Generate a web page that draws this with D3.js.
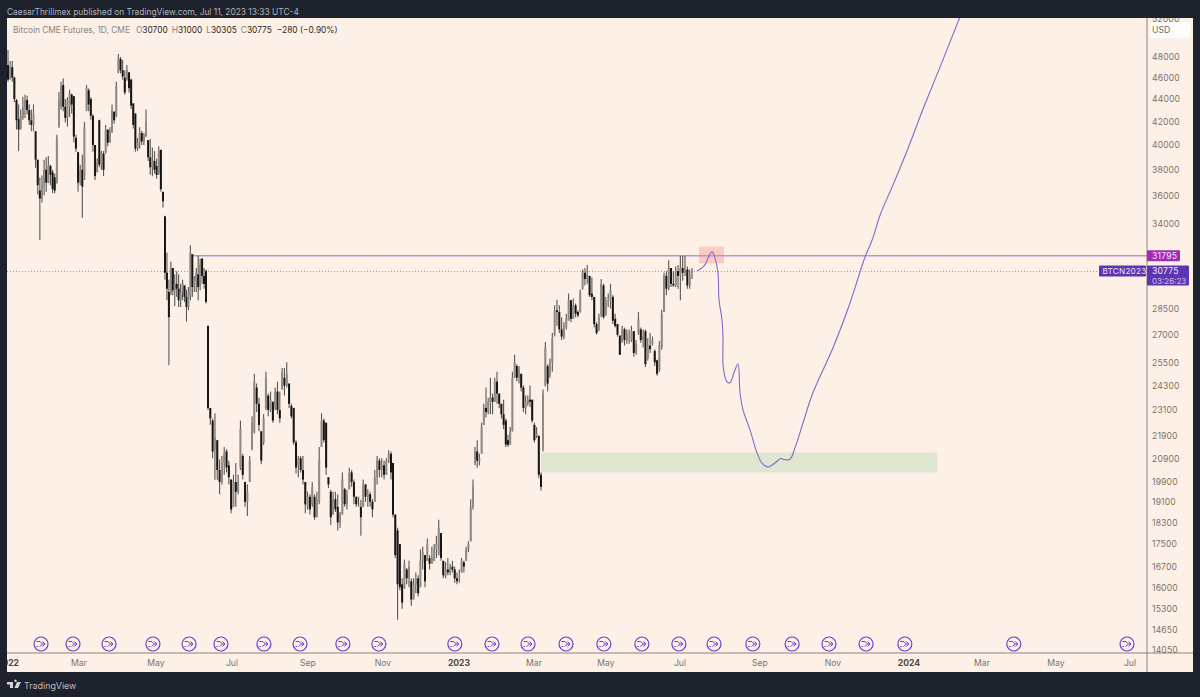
<!DOCTYPE html>
<html><head><meta charset="utf-8">
<script src="https://cdnjs.cloudflare.com/ajax/libs/d3/7.8.5/d3.min.js"></script>
<style>html,body{margin:0;padding:0;background:#1e222d;overflow:hidden}svg{display:block}text{font-family:Inter,"Noto Sans",sans-serif}</style>
</head><body><svg id="c" width="1200" height="697"></svg>
<script>
const highs=[48700,47600,47600,46100,44000,43500,43050,44200,44400,44300,
43500,43050,43500,41150,38800,37400,37550,38800,39000,39100,
38400,38000,37700,40850,44650,45600,45900,44000,44150,44850,
44500,44250,40850,39450,38400,39200,41950,45300,45000,44150,
42600,40000,38900,42150,39500,39500,41700,41300,41500,43500,
42900,45600,48300,48000,47700,46700,47200,46500,45900,43600,
42700,40600,41500,41200,41000,43050,40400,40500,39800,39500,
38900,39900,39600,36300,
34550,32000,30250,31400,31000,30600,30800,30600,30000,30250,
29900,29650,29800,32500,31900,30500,31000,31800,31600,31650,
31000,30900,
27500,23200,22700,22950,21700,20850,21000,21400,21300,20800,
20000,20200,20700,20200,22600,21100,19900,19800,21000,22800,
24900,24400,23700,22100,22900,25000,23900,24000,23500,24200,
24500,24000,25200,25200,25500,24400,23400,23200,21700,21000,
21000,21000,19900,19500,19400,19900,19400,19500,21400,22950,
22700,22500,20100,19580,19500,19500,19400,18700,20300,19650,
19580,20500,20400,20000,19300,19300,19180,20000,19800,19600,
19500,19200,20400,21000,20900,20900,20800,20900,21250,21200,
20700,18600,18100,17500,16300,16950,16650,16900,16300,16300,
16500,16400,17300,17400,17100,17700,17100,17400,17500,17800,
18400,17900,16900,16850,17000,16800,16900,16700,16500,16600,
17000,16900,17400,17600,19200,20000,
21400,21700,21100,22500,23400,24200,23700,24700,23900,24700,
25000,23900,23400,23600,22700,21950,22300,25000,25900,25400,
25300,24900,24300,23800,23800,24300,23600,22500,22300,21900,
20300,
24100,26600,25400,25700,27100,28700,29030,28700,28000,27700,
28200,29400,29000,29100,28800,28400,29650,30900,31000,31200,
30500,30400,29200,27700,28200,30300,30000,29200,29400,30000,
29300,28200,27600,26950,27500,27400,27300,27300,27500,27200,
26700,28300,27400,27300,27300,26800,27100,26900,26200,25630,
26650,28430,30700,30800,31500,31000,30800,31100,31200,31800,
31800,31800,31100,30900,31000];
const lows=[45600,45800,45600,43700,41300,39500,41300,42150,42300,42600,
41700,41150,41150,38150,36100,32850,35500,36050,36300,36950,
36800,36200,36200,36950,41450,43050,42900,41900,41550,42400,
42700,40200,39450,36300,36800,34400,37200,42900,42900,42150,
39450,37200,37800,38200,38000,37500,39300,39900,40200,41000,
41800,42400,46400,46400,45800,44400,45700,44600,43100,41400,
39450,39500,39700,40000,40000,40700,38700,37600,37500,37700,
37300,37600,36300,35150,
30250,29000,25350,29300,29300,28650,29200,28600,28600,29000,
28900,27750,28400,29000,29200,29500,29500,29000,29600,30000,
29700,28800,
23100,22400,20900,19990,19990,19400,19800,20200,20300,19800,
18650,18900,18900,19400,20400,20000,18900,18550,19900,21250,
22000,23000,22100,20650,21500,23100,22800,23000,22500,23100,
22900,22500,24100,23800,24200,23200,22700,21500,20250,20100,
20300,19800,18650,18800,18600,18900,18400,18500,19000,21400,
21600,20200,19650,18200,18600,18700,18000,18100,18600,18900,
18800,19600,19700,19000,18900,18900,17800,18900,19100,18900,
18900,18500,19100,19800,20100,20100,20000,20200,20700,20000,
18500,17000,14960,15900,15300,15950,16100,16000,15400,15600,
15800,15700,16000,16600,16000,16900,16600,16800,16900,17000,
17100,16900,16300,16300,16400,16400,16500,16150,16100,16150,
16500,16500,16900,17200,17600,18800,
20600,20500,20600,21100,22400,22750,22900,22900,22900,23500,
23400,23200,22700,22200,21400,21400,21500,22100,24700,24500,
24400,24000,23000,22900,23300,23250,22500,21600,21800,20050,
19550,
21200,24250,24000,24700,25000,26900,27500,27100,26700,26750,
27300,27800,27700,27900,28000,28000,28250,29650,29900,30000,
29200,29000,27400,27000,27200,28000,27900,28100,28600,28500,
27600,27400,26900,25900,26550,26400,26500,26500,26600,25800,
25900,27000,26550,26300,25250,25600,26000,26400,25300,24800,
25000,26170,28300,29300,29600,29800,29800,29800,29700,29000,
30200,30500,29700,29700,30305];
const opens=[47200,45900,47000,46000,43900,42200,41400,42300,43200,43900,
43000,42100,41700,41150,38800,36400,35800,36800,38000,37000,
38300,37800,37400,36950,41500,43300,45300,43300,42300,43300,
44400,44250,40600,39400,37100,38000,37300,42950,44800,44000,
42500,40000,37800,42100,38400,39300,39400,41300,40200,41100,
42850,42500,46500,47800,46700,46000,45800,46500,45800,43600,
42700,39700,40200,41000,40300,40700,40400,39000,38200,38700,
38300,37700,39600,36300,
34500,30700,29500,29400,31000,29600,30000,29700,29000,29500,
29900,29200,28600,29200,31900,29900,30200,30600,29900,31600,
30500,30800,
27500,23200,22600,21300,21700,20400,19900,20700,21200,20600,
20000,18900,19900,19500,20500,21000,19900,19100,19900,21300,
22100,24200,23400,22100,21600,23200,23800,23100,23500,23200,
24000,23100,24100,24700,24300,24400,23300,23200,21600,20600,
20900,20400,19900,18900,19300,19000,19300,18500,19100,21400,
22600,22500,20100,19500,18600,19200,18900,18300,18600,19600,
19000,19600,20300,19900,19300,19000,18900,18900,19800,19300,
19400,19100,19100,20100,20800,20400,20600,20200,20800,21100,
20700,18600,18000,17500,16100,15950,16600,16300,16200,15600,
16100,16300,16000,16900,17100,16900,17000,16800,16900,17300,
17100,17900,16900,16400,16600,16500,16700,16600,16300,16300,
16500,16850,16900,17300,17600,18900,
20700,21200,20800,21100,22400,23200,23000,23500,23700,23500,
24500,23900,23400,22900,22600,21700,21500,22100,24700,25300,
24700,24900,24200,23200,23400,23600,23600,22400,21900,21900,
20200,
21300,24300,25300,24800,25500,27000,28400,28300,27300,26900,
27400,27800,29000,27900,28700,28300,28300,29700,30700,30300,
30500,29400,29200,27600,27300,28100,29900,28100,28900,29000,
29200,27900,27600,26950,26600,27300,26700,26700,26700,27200,
26000,27100,27300,26700,27200,25700,26400,26500,26100,25600,
25100,26300,28300,30500,29700,31000,30000,29900,30800,30500,
31000,30700,30900,29900,30700];
const closes=[45800,47000,46000,44000,42100,41300,42400,43300,43950,43000,
42100,41700,42700,38800,36800,35800,36800,38000,37000,38300,
37600,36500,36400,40500,44000,45200,43300,42300,43900,44500,
43500,40700,39700,37000,38000,36700,41500,45000,43500,42500,
40000,37500,38600,38400,39300,38000,41300,40200,41200,43000,
42100,45200,48000,46700,46100,44600,46700,45000,43400,41700,
39700,40200,41000,40300,40800,42000,39000,38200,38700,38000,
37600,39500,36500,35600,
30700,29700,28000,31000,29600,30000,29700,29000,29500,30000,
29200,28600,29500,32000,29800,30300,30700,29800,31200,30500,
30000,28900,
23200,22700,21200,21800,20400,19900,20700,21100,20500,20100,
18800,19900,19500,19900,22200,20200,19100,19500,20800,22500,
24500,23400,22400,20800,22700,24700,23100,23600,22600,24000,
23100,22700,25000,24300,24900,23400,22800,21600,20500,20900,
20400,20000,19000,19300,18800,19700,18500,19200,20800,22600,
21700,20500,19800,18500,19200,18800,18300,18600,20000,19000,
19400,20300,19900,19300,19000,19000,18500,19800,19300,19400,
19100,18800,20100,20800,20400,20600,20200,20800,21100,20300,
18600,17100,16100,16000,15500,16800,16300,16700,15600,16100,
16300,15800,16900,17200,16200,17500,16800,17000,17300,17500,
18100,17000,16400,16600,16500,16700,16600,16300,16200,16300,
16900,16700,17300,17500,18900,19700,
21200,20800,20900,22300,23200,23000,23500,23700,23500,24500,
23900,23400,22900,22400,21500,21500,22100,24700,25500,24700,
25100,24200,23200,23500,23600,23500,22600,21700,22000,20200,
19700,
23900,26300,24400,25500,26800,28400,28300,27300,26900,27400,
27900,29000,27900,28700,28200,28100,29500,30700,30300,30600,
29300,29200,27600,27100,28000,30000,28000,28900,29000,29600,
27800,27500,27000,25900,27300,26700,27100,26700,27200,26000,
26500,27900,26700,26900,25400,26400,26200,26700,25500,24900,
26400,28200,30500,29700,31000,30000,29900,30800,30500,31000,
30700,30900,29900,30600,30775];

// bar index calibration around the weekend/holiday gaps
const barAnchors=[0,73,74,95,96,175,176,211,212,242,243,307];
const barPixels=[8,163,165,206,208,391,393,473,475,541,543,692];

const priceTicks=[52000,48000,46000,44000,42000,40000,38000,36000,34000,28500,27000,25500,24300,23100,21900,20900,19900,19100,18300,17500,16700,16000,15300,14650,14050];
const monthValues=[0,2,4,6,8,10,12,14,16,18,20,22,24,26,28,30];
const monthLabels=["2022","Mar","May","Jul","Sep","Nov","2023","Mar","May","Jul","Sep","Nov","2024","Mar","May","Jul"];
const monthPixels=[8,79,156,232,308,383,459,534,606,680,760,833,909,982,1056,1130];
const rollovers=[0.93,1.83,2.78,3.92,4.87,5.71,6.84,7.79,8.93,9.89,11.89,12.88,13.84,14.89,15.94,16.97,17.97,18.85,19.82,20.88,21.89,22.87,23.89,26.86,29.92];

const projMonths=[18.43,18.625,18.7,18.8,18.875,18.95,18.975,19.05,19.075,19.08,19.175,19.25,19.35,19.45,19.5,19.575,19.75,19.925,20.05,20.22,20.41,20.575,20.63,20.82,20.96,21.18,21.45,22,22.45,22.84,23.03,23.24,23.58,23.95,24.38,24.85,25.4];
const projPrices=[30800,31200,31640,32070,31640,30700,29030,27850,26720,25270,24490,24440,24950,25420,23940,23110,22170,21140,20700,20530,20700,20900,20860,20860,21360,22500,23940,26280,28850,31700,32850,34600,36830,39530,43050,47000,52200];

const resistance=31795, lastClose=30775;
const supplyZone={m0:18.475,m1:19.1,p0:32400,p1:31300};
const demandZone={m0:14.19,m1:24.77,p0:21150,p1:20300};

const svg=d3.select("#c");
const L=7,R=1193,T=18,B=672,AX=1147,TA=653;
const y=d3.scaleLog().domain([14050,48000]).range([650,57]);
const xBar=d3.scaleLinear().domain(barAnchors).range(barPixels);
const xM=d3.scaleLinear().domain(monthValues).range(monthPixels);

svg.append("rect").attr("width",1200).attr("height",697).attr("fill","#1e222d");
svg.append("rect").attr("x",L).attr("y",T).attr("width",R-L).attr("height",B-T).attr("fill","#fdf0e6");
const defs=svg.append("defs");
defs.append("clipPath").attr("id","pane").append("rect").attr("x",L).attr("y",T).attr("width",AX-L).attr("height",TA-T);
defs.append("clipPath").attr("id","scale").append("rect").attr("x",AX).attr("y",T).attr("width",R-AX).attr("height",TA-T+1);
defs.append("clipPath").attr("id","time").append("rect").attr("x",L).attr("y",TA).attr("width",AX-L).attr("height",B-TA);
defs.append("filter").attr("id","soft").attr("x","-5%").attr("y","-5%").attr("width","110%").attr("height","110%")
  .append("feGaussianBlur").attr("stdDeviation",0.3);

const pane=svg.append("g").attr("clip-path","url(#pane)");
// zones
[[supplyZone,"#fbcbc1"],[demandZone,"#dfe6cf"]].forEach(([z,c])=>{
  pane.append("rect").attr("x",xM(z.m0)).attr("width",xM(z.m1)-xM(z.m0))
    .attr("y",y(z.p0)).attr("height",y(z.p1)-y(z.p0)).attr("fill",c);
});
// last price dotted
pane.append("line").attr("x1",L).attr("x2",AX).attr("y1",y(lastClose)).attr("y2",y(lastClose))
  .attr("stroke","#a987cf").attr("stroke-width",1).attr("stroke-dasharray","1 2");
// resistance
pane.append("line").attr("x1",xM(4.95)).attr("x2",AX).attr("y1",y(resistance)).attr("y2",y(resistance))
  .attr("stroke","#bd95cf").attr("stroke-width",1.6);

const idx=d3.range(highs.length);
const bars=pane.append("g").attr("filter","url(#soft)");
bars.append("g").selectAll("line").data(idx).join("line")
  .attr("x1",i=>xBar(i)).attr("x2",i=>xBar(i))
  .attr("y1",i=>y(highs[i])).attr("y2",i=>y(lows[i]))
  .attr("stroke","#5a5652").attr("stroke-width",1.1);
bars.append("g").selectAll("rect").data(idx).join("rect")
  .attr("x",i=>xBar(i)-1).attr("width",2)
  .attr("y",i=>y(Math.max(opens[i],closes[i])))
  .attr("height",i=>Math.max(0.8,Math.abs(y(opens[i])-y(closes[i]))))
  .attr("fill",i=>closes[i]<opens[i]?"#141414":"#8f8a85");

// projection
pane.append("path").attr("fill","none").attr("stroke","#8469c8").attr("stroke-width",1.1)
  .attr("d",d3.line().x((d,i)=>xM(projMonths[i])).y(d=>y(d)).curve(d3.curveCatmullRom.alpha(0.5))(projPrices));

// rollover icons
const ic=pane.append("g").selectAll("g").data(rollovers).join("g")
  .attr("transform",m=>`translate(${xM(m)},644)`);
ic.append("circle").attr("r",7).attr("fill","#fdf0e6").attr("stroke","#6a3ed6").attr("stroke-width",1.2);
ic.append("path").attr("d","M-4.5,-2.5 L-1,-2.5 L1.5,0 M-4.5,2.5 L-3,2.5 M-1.5,2.5 L1.5,0 L4,0 M1.5,-2.5 L4,0 L1.5,2.5")
  .attr("fill","none").attr("stroke","#6a3ed6").attr("stroke-width",1);

// axes lines
svg.append("line").attr("x1",L).attr("x2",R).attr("y1",TA).attr("y2",TA).attr("stroke","#8a8580").attr("stroke-width",1);
svg.append("line").attr("x1",AX).attr("x2",AX).attr("y1",T).attr("y2",B).attr("stroke","#8a8580").attr("stroke-width",1);

// price axis
const ya=svg.append("g").attr("clip-path","url(#scale)")
  .append("g").attr("transform",`translate(${AX},0)`)
  .call(d3.axisRight(y).tickValues(priceTicks).tickSize(0).tickPadding(5).tickFormat(d3.format("d")));
ya.select(".domain").remove();
ya.selectAll("text").attr("fill","#7d7168").attr("font-size",8.6).attr("letter-spacing",0.15);

// time axis
const ta=svg.append("g").attr("clip-path","url(#time)");
ta.selectAll("text").data(monthValues).join("text")
  .attr("x",m=>xM(m)).attr("y",666).attr("text-anchor","middle")
  .attr("font-size",8.6)
  .attr("font-weight",(m,i)=>/^\d/.test(monthLabels[i])?700:400)
  .attr("fill",(m,i)=>/^\d/.test(monthLabels[i])?"#4a4540":"#7d7168")
  .text((m,i)=>monthLabels[i]);

// USD box
svg.append("rect").attr("x",1150).attr("y",22).attr("width",40).attr("height",16).attr("rx",2).attr("fill","#fffdfb");
svg.append("text").attr("x",1152).attr("y",32.5).attr("font-size",8.6).attr("fill","#6d6a66").text("USD");

// tags
const yR=y(resistance), yC=y(lastClose);
svg.append("rect").attr("x",AX).attr("y",yR-5.5).attr("width",33).attr("height",11).attr("rx",1).attr("fill","#a32bb5");
svg.append("text").attr("x",AX+5).attr("y",yR+3.2).attr("font-size",8.6).attr("fill","#f4e3f6").attr("letter-spacing",0.2).text(String(resistance));
svg.append("rect").attr("x",1099).attr("y",yC-6).attr("width",47).attr("height",11).attr("rx",1).attr("fill","#5e35b1");
svg.append("text").attr("x",1102.5).attr("y",yC+2.8).attr("font-size",8.2).attr("fill","#e9e2f7").attr("letter-spacing",0.2).text("BTCN2023");
svg.append("rect").attr("x",AX).attr("y",yC-6).attr("width",42).attr("height",20).attr("rx",1).attr("fill","#5e35b1");
svg.append("text").attr("x",AX+5).attr("y",yC+2.8).attr("font-size",8.6).attr("fill","#f0ebfa").attr("letter-spacing",0.2).text(String(lastClose));
svg.append("text").attr("x",AX+5).attr("y",yC+12).attr("font-size",8).attr("fill","#c9bde8").text("03:26:23");

// header
svg.append("text").attr("x",7).attr("y",14.5).attr("font-size",8.4).attr("fill","#aeb1b9").text("CaesarThrillmex published on TradingView.com, Jul 11, 2023 13:33 UTC-4");
const leg=svg.append("text").attr("x",13).attr("y",33).attr("font-size",8.35).attr("fill","#8a837c");
leg.append("tspan").text("Bitcoin CME Futures, 1D, CME");
[["O","30700"],["H","31000"],["L","30305"],["C","30775"]].forEach(([k,v],i)=>{
  leg.append("tspan").attr("dx",i?4:6).text(k);
  leg.append("tspan").attr("fill","#2b2826").text(v);
});
leg.append("tspan").attr("dx",5).attr("fill","#2b2826").text("\u2212280 (\u22120.90%)");

// footer
svg.append("path").attr("fill","#d1d4dc").attr("d","M7,682 h6 v6 h-3 v-3.5 h-3 z M15.5,682 a1.2,1.2 0 1,1 .01,0 M17,682 h4 l-3,6 h-3.5 z");
svg.append("text").attr("x",24).attr("y",688.5).attr("font-size",8.9).attr("fill","#b8bbc3").text("TradingView");
</script></body></html>
